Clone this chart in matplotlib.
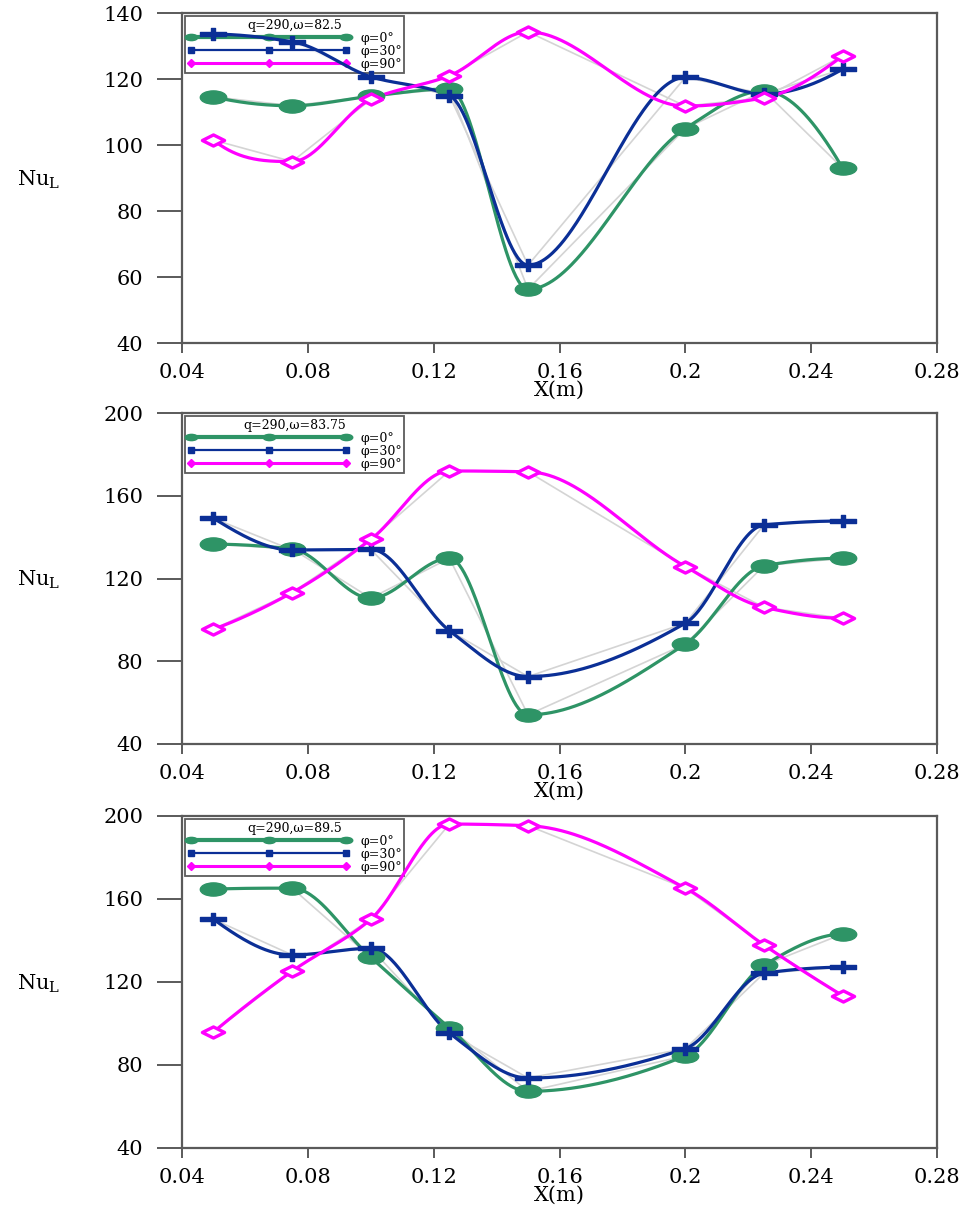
import numpy as np
import matplotlib
matplotlib.use("Agg")
import matplotlib.pyplot as plt
from matplotlib.path import Path
from matplotlib.lines import Line2D

plt.rcParams['font.family'] = ['DejaVu Serif']
plt.rcParams['mathtext.fontset'] = 'dejavuserif'

# ---------------- data ----------------
x_pos = [0.05, 0.075, 0.1, 0.125, 0.15, 0.2, 0.225, 0.25]

titles = ["q=290,ω=82.5", "q=290,ω=83.75", "q=290,ω=89.5"]
series_labels = ["φ=0°", "φ=30°", "φ=90°"]

p1_phi0 = [114.6, 111.9, 114.8, 117.0, 56.3, 105.0, 116.4, 93.0]
p1_phi30 = [133.6, 131.3, 120.7, 115.0, 63.6, 120.5, 115.5, 123.0]
p1_phi90 = [101.5, 95.0, 113.8, 121.0, 134.3, 111.8, 114.3, 127.0]

p2_phi0 = [136.6, 134.3, 110.5, 129.8, 54.1, 88.3, 126.2, 129.8]
p2_phi30 = [149.1, 133.8, 134.1, 94.8, 72.6, 98.4, 145.9, 147.8]
p2_phi90 = [95.5, 113.2, 138.9, 172.0, 171.6, 125.8, 106.1, 100.8]

p3_phi0 = [164.7, 165.2, 131.9, 97.9, 67.3, 84.4, 128.1, 143.1]
p3_phi30 = [150.2, 133.0, 136.2, 95.4, 73.7, 87.9, 124.2, 127.1]
p3_phi90 = [95.9, 125.2, 150.2, 196.1, 195.3, 165.2, 137.8, 113.4]

y_limits = [(40, 140), (40, 200), (40, 200)]
y_ticks = [[40, 60, 80, 100, 120, 140], [40, 80, 120, 160, 200], [40, 80, 120, 160, 200]]
x_ticks = [0.04, 0.08, 0.12, 0.16, 0.2, 0.24, 0.28]
x_ticklabels = ["0.04", "0.08", "0.12", "0.16", "0.2", "0.24", "0.28"]

panels = [
    (p1_phi0, p1_phi30, p1_phi90),
    (p2_phi0, p2_phi30, p2_phi90),
    (p3_phi0, p3_phi30, p3_phi90),
]

colors = ["#2e9466", "#0b2f96", "#ff00ff"]


# ---------------- helpers ----------------
def _edge(h0, h1, m0, m1):
    d = ((2 * h0 + h1) * m0 - h0 * m1) / (h0 + h1)
    if np.sign(d) != np.sign(m0):
        d = 0.0
    elif np.sign(m0) != np.sign(m1) and abs(d) > abs(3 * m0):
        d = 3 * m0
    return d


def pchip(x, y, n=500):
    x = np.asarray(x, float)
    y = np.asarray(y, float)
    k = len(x)
    h = np.diff(x)
    m = np.diff(y) / h
    d = np.zeros(k)
    for i in range(1, k - 1):
        if m[i - 1] * m[i] <= 0:
            d[i] = 0.0
        else:
            w1 = 2 * h[i] + h[i - 1]
            w2 = h[i] + 2 * h[i - 1]
            d[i] = (w1 + w2) / (w1 / m[i - 1] + w2 / m[i])
    d[0] = _edge(h[0], h[1], m[0], m[1])
    d[-1] = _edge(h[-1], h[-2], m[-1], m[-2])
    xs = np.linspace(x[0], x[-1], n)
    ys = np.empty_like(xs)
    for j, xv in enumerate(xs):
        i = int(np.clip(np.searchsorted(x, xv, side='right') - 1, 0, k - 2))
        s = (xv - x[i]) / h[i]
        h00 = 2 * s ** 3 - 3 * s ** 2 + 1
        h10 = s ** 3 - 2 * s ** 2 + s
        h01 = -2 * s ** 3 + 3 * s ** 2
        h11 = s ** 3 - s ** 2
        ys[j] = h00 * y[i] + h10 * h[i] * d[i] + h01 * y[i + 1] + h11 * h[i] * d[i + 1]
    return xs, ys


def ellipse_marker(ratio=2.0):
    c = Path.unit_circle()
    v = c.vertices.copy()
    v[:, 0] *= ratio
    return Path(v, c.codes)


def plus_marker(w=2.2, h=1.0, t=0.3):
    verts = [(-w, -t), (-t, -t), (-t, -h), (t, -h), (t, -t), (w, -t),
             (w, t), (t, t), (t, h), (-t, h), (-t, t), (-w, t), (-w, -t)]
    codes = [Path.MOVETO] + [Path.LINETO] * 11 + [Path.CLOSEPOLY]
    return Path(verts, codes)


def diamond_marker(w=2.0, h=1.0):
    verts = [(-w, 0), (0, -h), (w, 0), (0, h), (-w, 0)]
    codes = [Path.MOVETO] + [Path.LINETO] * 3 + [Path.CLOSEPOLY]
    return Path(verts, codes)


m_ell = ellipse_marker()
m_plus = plus_marker()
m_dia = diamond_marker()

fig = plt.figure(figsize=(9.75, 12.07), dpi=100)

axes_rects = [
    [0.1867, 0.7158, 0.7743, 0.2734],
    [0.1867, 0.3836, 0.7743, 0.2742],
    [0.1867, 0.0489, 0.7743, 0.2751],
]

spine_col = "#5a5a5a"

for pi, (rect, data) in enumerate(zip(axes_rects, panels)):
    ax = fig.add_axes(rect)
    s0, s30, s90 = data
    # faint straight connectors
    for s in (s0, s30, s90):
        ax.plot(x_pos, s, color="#d4d4d4", lw=1.2, zorder=1)
    # smooth curves
    for s, c in zip((s0, s30, s90), colors):
        xs, ys = pchip(x_pos, s)
        ax.plot(xs, ys, color=c, lw=2.3, zorder=2)
    ax.plot(x_pos, s0, ls='none', marker=m_ell, ms=19, color=colors[0],
            mec=colors[0], zorder=3)
    ax.plot(x_pos, s30, ls='none', marker=m_plus, ms=19, color=colors[1],
            mec=colors[1], zorder=4)
    ax.plot(x_pos, s90, ls='none', marker=m_dia, ms=16, mfc='white',
            mec=colors[2], mew=2.4, zorder=4)

    ax.set_xlim(0.04, 0.28)
    ax.set_ylim(*y_limits[pi])
    ax.set_xticks(x_ticks)
    ax.set_xticklabels(x_ticklabels)
    ax.set_yticks(y_ticks[pi])
    ax.tick_params(axis='y', direction='out', length=18, width=1.4,
                   color=spine_col, labelsize=15, pad=10)
    ax.tick_params(axis='x', direction='out', length=7.5, width=1.4,
                   color=spine_col, labelsize=15, pad=7)
    for sp in ax.spines.values():
        sp.set_color(spine_col)
        sp.set_linewidth(1.6)
    ax.set_xlabel("X(m)", fontsize=15, va='center')
    ax.xaxis.set_label_coords(0.5, -0.142)
    ax.set_ylabel("Nu$_{\\mathrm{L}}$", fontsize=15, rotation=0,
                  ha='center', va='center')
    ax.yaxis.set_label_coords(-0.19, 0.495)

    handles = [
        Line2D([], [], color=colors[0], lw=3, marker=m_ell, ms=9),
        Line2D([], [], color=colors[1], lw=1.6, marker='s', ms=4),
        Line2D([], [], color=colors[2], lw=2.2, marker='D', ms=4),
    ]
    leg = ax.legend(handles, series_labels, title=titles[pi], loc='upper left',
                    bbox_to_anchor=(0.0, 1.0), fontsize=9, title_fontsize=9,
                    numpoints=3, handlelength=13, handletextpad=0.8,
                    labelspacing=0.0, borderpad=0.2, borderaxespad=0.25,
                    fancybox=False, frameon=True, edgecolor='#333333')
    leg.get_frame().set_linewidth(1.3)
    leg.get_title().set_ha('center')
    leg.set_zorder(1.5)

fig.savefig("out.png", dpi=100)
